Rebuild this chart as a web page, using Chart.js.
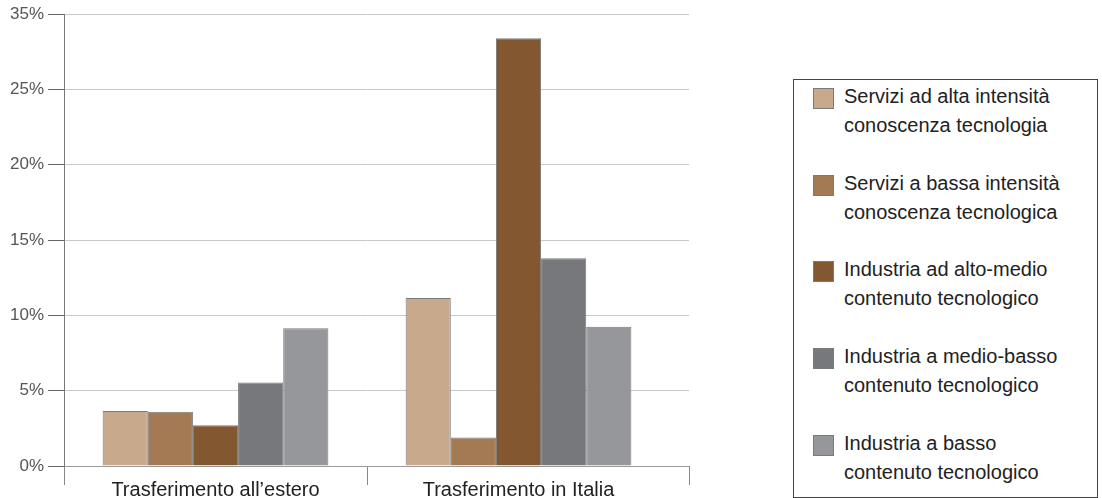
<!DOCTYPE html>
<html>
<head>
<meta charset="utf-8">
<script src="https://cdn.jsdelivr.net/npm/chart.js@4/dist/chart.umd.min.js"></script>
<style>
  html, body { margin: 0; padding: 0; background: #fff; }
  body { width: 1102px; height: 498px; position: relative; overflow: hidden; font-family: "Liberation Sans", Arial, sans-serif; }
  #wrap { position: absolute; left: 0; top: 0; width: 700px; height: 498px; }
  #legend { position: absolute; left: 793px; top: 79px; width: 305px; height: 419px; border: 1px solid #444; box-sizing: border-box; }
  .item { position: absolute; left: 19px; font-size: 20px; line-height: 29px; color: #222; }
  .item .sw { position: absolute; left: 0; top: 6px; width: 21px; height: 21px; box-sizing: border-box; border: 1px solid #7a7a7a; }
  .item .tx { margin-left: 31px; white-space: nowrap; }
</style>
</head>
<body>
<div id="wrap"><canvas id="chart"></canvas></div>
<div id="legend"></div>
<script>
// categorie e valori (%)
const categories = ["Trasferimento all\u2019estero", "Trasferimento in Italia"];
const seriesNames = [
  ["Servizi ad alta intensità", "conoscenza tecnologia"],
  ["Servizi a bassa intensità", "conoscenza tecnologica"],
  ["Industria ad alto-medio", "contenuto tecnologico"],
  ["Industria a medio-basso", "contenuto tecnologico"],
  ["Industria a basso", "contenuto tecnologico"]
];
const serviziAlta   = [3.65, 11.15];
const serviziBassa  = [3.6, 1.9];
const industriaAlto = [2.7, 28.4];
const industriaMedio = [5.55, 13.8];
const industriaBasso = [9.15, 9.25];
const seriesColors = ["#c9a98c", "#a47a55", "#83572f", "#77787c", "#96979b"];
const tickLabels = ["0%", "5%", "10%", "15%", "20%", "25%", "35%"];

const values = [serviziAlta, serviziBassa, industriaAlto, industriaMedio, industriaBasso];

const datasets = values.map((v, i) => ({
  label: seriesNames[i].join(" "),
  data: v,
  backgroundColor: seriesColors[i],
  borderColor: "#7a7a7a",
  borderWidth: 1,
  barPercentage: 1.0,
  categoryPercentage: 0.745
}));

const EXTRA = 19; // prolungamento a destra della griglia

// le linee della griglia proseguono un po' oltre l'ultima categoria
const gridExtension = {
  id: "gridExtension",
  beforeDatasetsDraw(chart) {
    const { ctx, chartArea, scales } = chart;
    const align = p => Math.round(p - 0.5) + 0.5;
    ctx.save();
    ctx.lineWidth = 1;
    scales.y.ticks.forEach(t => {
      const y = align(scales.y.getPixelForValue(t.value));
      ctx.strokeStyle = t.value === 0 ? "#999" : "#c8c8c8";
      ctx.beginPath();
      ctx.moveTo(chartArea.right, y);
      ctx.lineTo(chartArea.right + EXTRA, y);
      ctx.stroke();
    });
    // tacca finale dell'asse x
    const x = align(chartArea.right + EXTRA);
    ctx.strokeStyle = "#888";
    ctx.beginPath();
    ctx.moveTo(x, chartArea.bottom);
    ctx.lineTo(x, chartArea.bottom + 19);
    ctx.stroke();
    ctx.restore();
  }
};

new Chart(document.getElementById("chart"), {
  type: "bar",
  data: { labels: categories, datasets },
  plugins: [gridExtension],
  options: {
    responsive: true,
    maintainAspectRatio: false,
    animation: false,
    layout: { padding: { top: 14, right: 30, left: 0, bottom: 0 } },
    plugins: { legend: { display: false }, tooltip: { enabled: false } },
    scales: {
      x: {
        grid: {
          offset: true, drawOnChartArea: false, tickLength: 19, lineWidth: 1,
          // l'ultima linea (senza tick) è sostituita da quella prolungata
          tickColor: c => c.tick === undefined ? "rgba(0,0,0,0)" : "#888"
        },
        border: { display: true, color: "#999", width: 1 },
        ticks: { padding: -7, color: "#222", font: { family: "Liberation Sans", size: 20 } },
        afterFit: s => { s.height = 32; }
      },
      y: {
        min: 0, max: 30,
        ticks: {
          stepSize: 5,
          padding: 4,
          color: "#555",
          font: { family: "Liberation Sans", size: 17 },
          callback: (val, idx) => tickLabels[idx]
        },
        grid: { color: "#c8c8c8", tickColor: "#666", tickLength: 16, lineWidth: 1 },
        border: { display: true, color: "#777", width: 1 },
        afterFit: s => { s.width = 64; }
      }
    }
  }
});

// legenda
const legend = document.getElementById("legend");
seriesNames.forEach((lines, i) => {
  const el = document.createElement("div");
  el.className = "item";
  el.style.top = (2 + i * 86.7) + "px";
  el.innerHTML = '<div class="sw" style="background:' + seriesColors[i] + '"></div>' +
    '<div class="tx">' + lines.join("<br>") + '</div>';
  legend.appendChild(el);
});
</script>
</body>
</html>
